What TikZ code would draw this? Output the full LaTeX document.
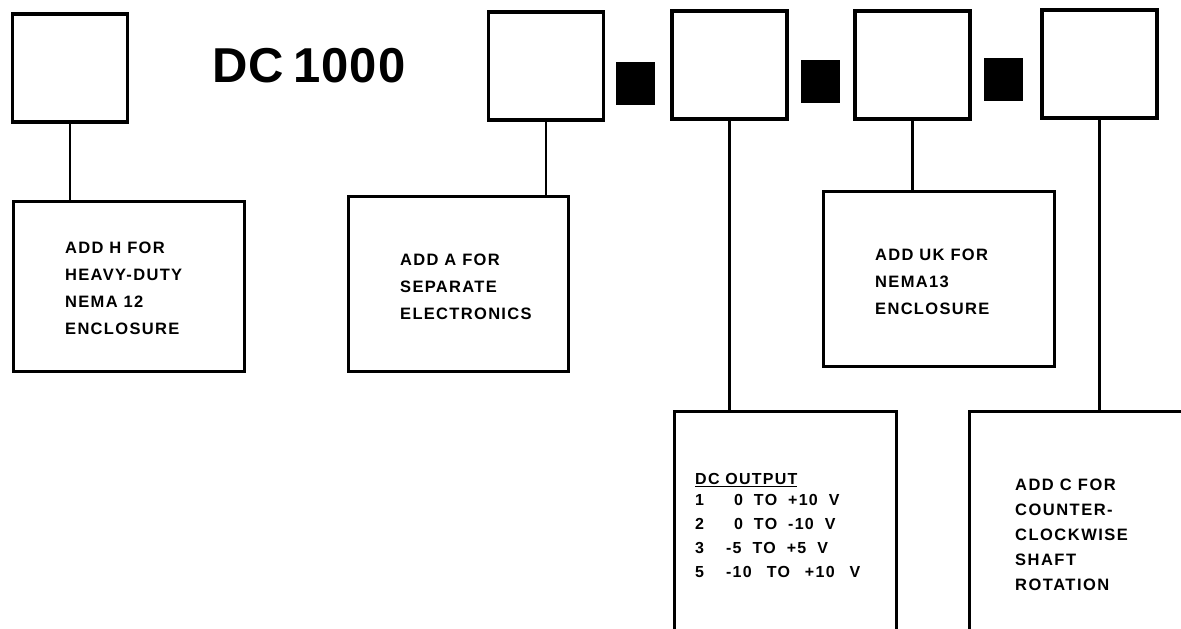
\documentclass[tikz,border=0pt]{standalone}
\usepackage{fontspec}
\setmainfont{Liberation Sans}
\newcommand{\widespaces}[1]{\spaceskip=#1\relax}
\begin{document}
\begin{tikzpicture}[x=1pt,y=-1pt,
  topbox/.style={draw,line width=3.4pt,minimum width=115pt,minimum height=108pt,inner sep=0pt},
  sqbox/.style={fill=black,minimum width=39pt,minimum height=43pt,inner sep=0pt},
  infobox/.style={draw,line width=3pt,anchor=north west,inner sep=0pt},
  lbl/.style={anchor=north west,align=left,inner sep=0pt,font=\bfseries\fontsize{16.5}{27}\selectfont\addfontfeatures{LetterSpace=8}},
  conn/.style={line width=2.2pt}]
\useasboundingbox (0,0) rectangle (1181,629);
\clip (0,0) rectangle (1181,629);
% top row
\node[topbox] (b1) at (70,68) {};
\node[font=\bfseries\fontsize{49}{49}\selectfont\addfontfeatures{LetterSpace=2}] (title) at (309,66) {DC\hspace{9pt}1000};
\node[topbox] (b2) at (546,66) {};
\node[sqbox] (s1) at (635,83) {};
\node[topbox] (b3) at (729.5,65) {};
\node[sqbox] (s2) at (820,81) {};
\node[topbox] (b4) at (912.5,65) {};
\node[sqbox] (s3) at (1003,79) {};
\node[topbox] (b5) at (1099.5,64) {};
% info boxes
\node[infobox,minimum width=231pt,minimum height=170pt] (hbox) at (12,200) {};
\node[infobox,minimum width=220pt,minimum height=175pt] (abox) at (347,195) {};
\node[infobox,minimum width=231pt,minimum height=175pt] (ukbox) at (822,190) {};
\node[infobox,minimum width=222pt,minimum height=260pt] (dcbox) at (673,410) {};
\node[infobox,minimum width=260pt,minimum height=260pt] (cbox) at (968,410) {};
% texts
\node[lbl] (ht) at (65,242) {ADD H FOR\\HEAVY-DUTY\\NEMA 12\\ENCLOSURE};
\node[lbl] (at) at (400,254) {ADD A FOR\\SEPARATE\\ELECTRONICS};
\node[lbl] (ukt) at (875,249) {ADD UK FOR\\NEMA13\\ENCLOSURE};
\node[lbl,font={\bfseries\fontsize{16}{23}\selectfont\addfontfeatures{LetterSpace=8}}] (dct) at (695,473) {\underline{DC OUTPUT}\\[1.5pt]
\begin{tabular}{@{}l@{\hspace{22pt}}l@{}}
1 & \hspace{8pt}\widespaces{11pt}0 TO +10 V\\[1.2pt]
2 & \hspace{8pt}\widespaces{11pt}0 TO -10 V\\[1.2pt]
3 & \widespaces{11pt}-5 TO +5 V\\[1.2pt]
5 & \widespaces{15pt}-10 TO +10 V
\end{tabular}};
\node[lbl,font=\bfseries\fontsize{16.5}{25}\selectfont\addfontfeatures{LetterSpace=9}] (ct) at (1015,479) {ADD C FOR\\COUNTER-\\CLOCKWISE\\SHAFT\\ROTATION};
% connectors
\draw[conn] (b1.south) -- (b1.south |- hbox.north);
\draw[conn] (b2.south) -- (b2.south |- abox.north);
\draw[conn] (b3.south) -- (b3.south |- dcbox.north);
\draw[conn] (b4.south) -- (b4.south |- ukbox.north);
\draw[conn] (b5.south) -- (b5.south |- cbox.north);
\end{tikzpicture}
\end{document}
